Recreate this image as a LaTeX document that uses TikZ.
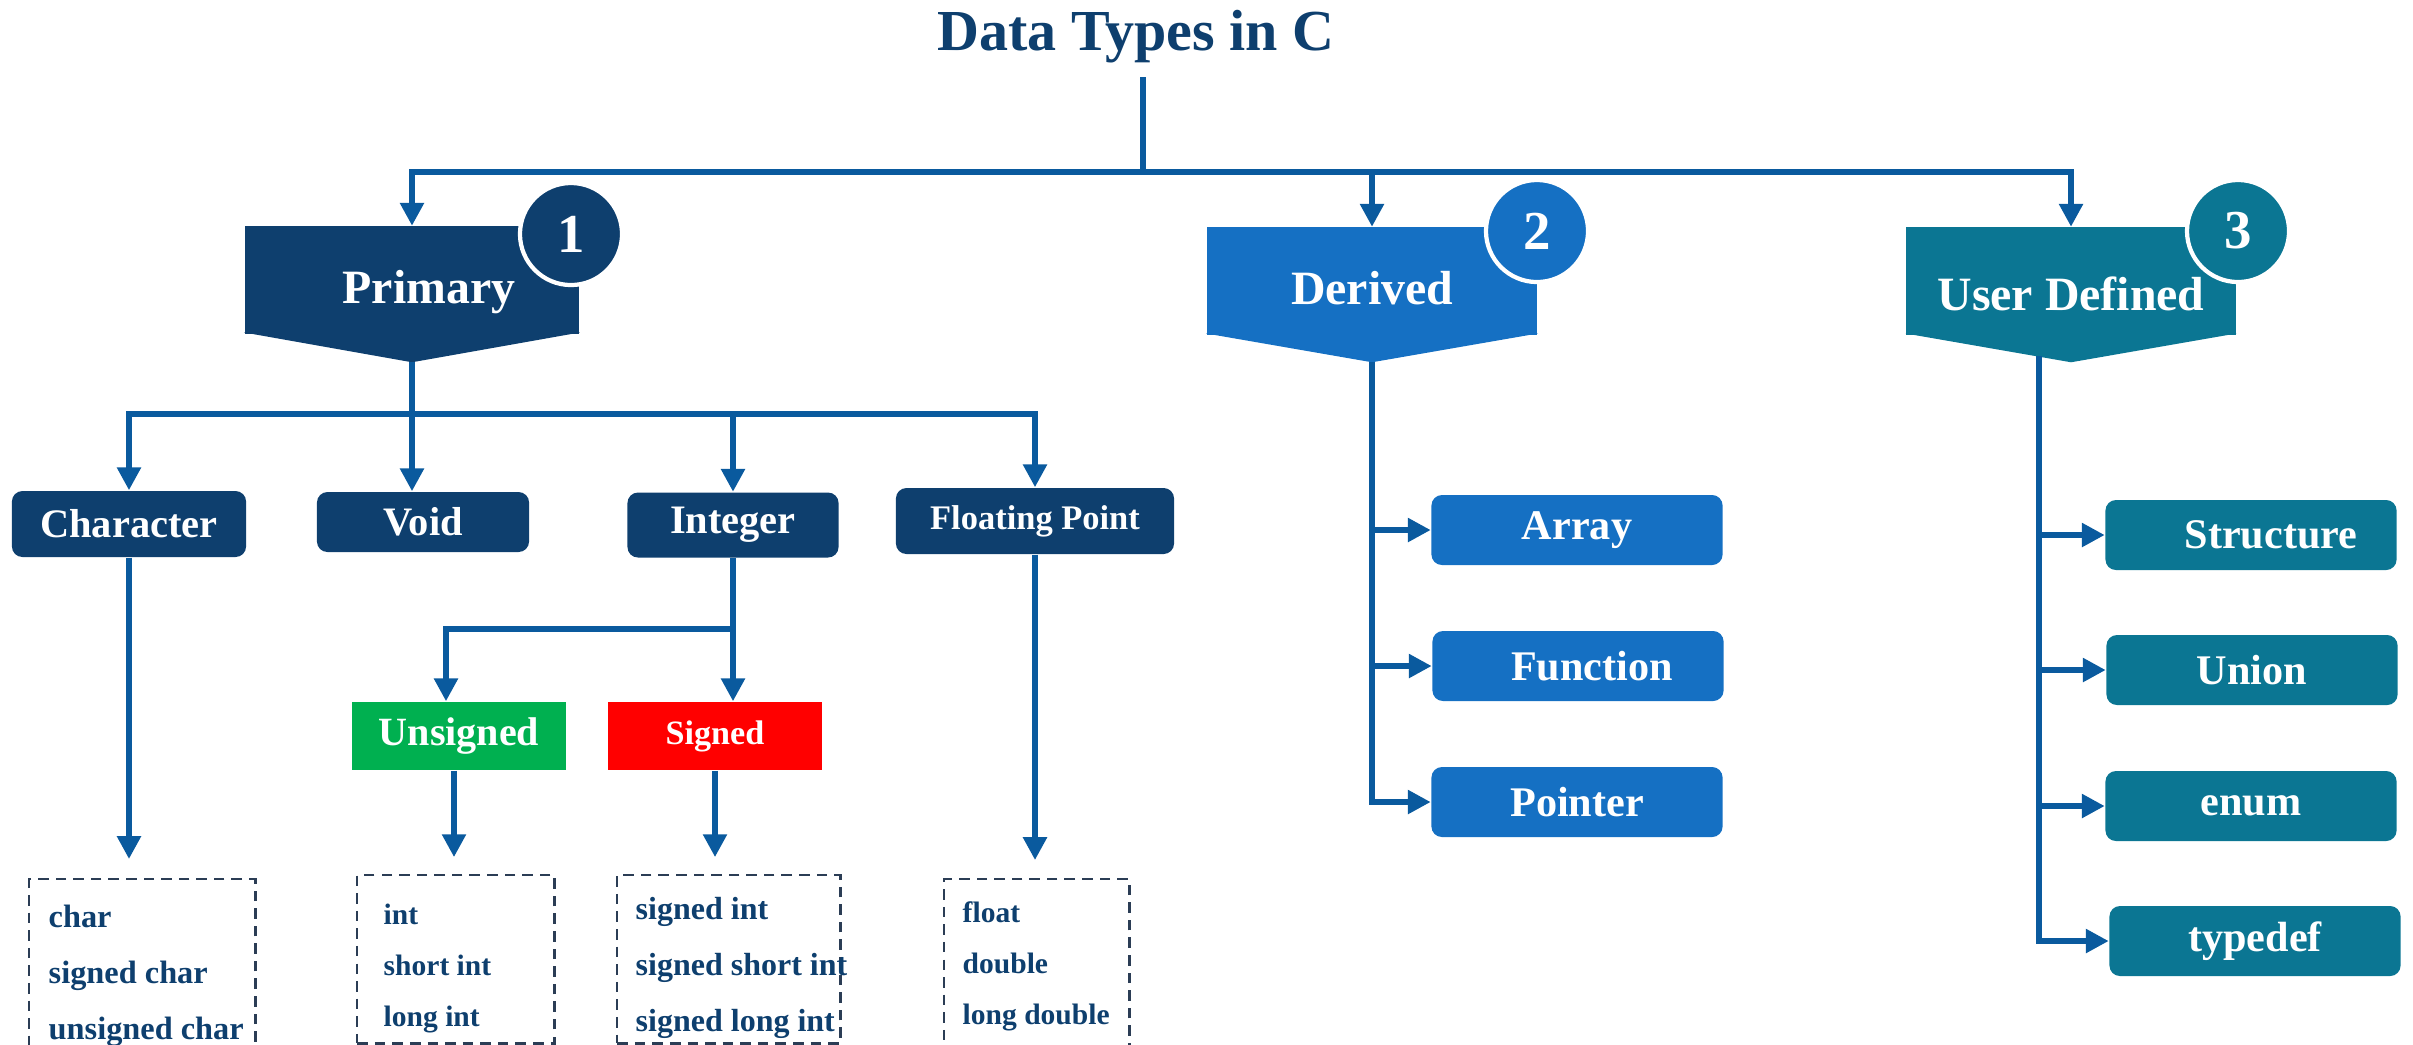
\documentclass[tikz,border=0pt]{standalone}
\usepackage{fontspec}
\setmainfont{Liberation Serif}
\usetikzlibrary{arrows.meta}

\definecolor{navy}{HTML}{0E3F6E}
\definecolor{derblue}{HTML}{1570C3}
\definecolor{tealblue}{HTML}{0B7693}
\definecolor{linkblue}{HTML}{0A5A9E}
\definecolor{okgreen}{HTML}{00B050}
\definecolor{dashgray}{HTML}{2B3D55}

\tikzset{
	link/.style={draw=linkblue,line width=1.9pt},
	arrow/.style={link,-{Triangle[length=6.5pt,width=6.5pt]}},
	head/.style={rectangle,fill=#1,text=white,font=\bfseries\fontsize{13.6}{16}\selectfont,minimum height=1.07cm,text height=13.5pt,text depth=0pt,inner sep=0pt},
	badge/.style={circle,fill=#1,draw=white,line width=1.2pt,text=white,font=\bfseries\fontsize{15.6}{18}\selectfont,minimum size=1.02cm,inner sep=0pt},
	catbox/.style={rectangle,rounded corners=3pt,fill=navy,text=white,font=\bfseries\fontsize{11.5}{14}\selectfont,inner sep=0pt},
	subbox/.style={rectangle,fill=#1,text=white,font=\bfseries\fontsize{11.4}{14}\selectfont,minimum width=2.14cm,minimum height=0.68cm,inner sep=0pt},
	itembox/.style={rectangle,rounded corners=3pt,fill=#1,text=white,font=\bfseries\fontsize{12}{14}\selectfont,minimum width=2.91cm,minimum height=0.70cm,inner sep=0pt},
	listbox/.style={rectangle,draw=dashgray,dash pattern=on 3pt off 2pt,line width=0.7pt,anchor=north west,inner sep=0pt},
	listtext/.style={anchor=base west,align=left,text=navy,inner sep=0pt},
}

\begin{document}
\begin{tikzpicture}[x=0.01cm,y=-0.01cm]
	\useasboundingbox (0,0) rectangle (2413,1044);
	\clip (0,0) rectangle (2413,1044);
	
	\node[anchor=base,text=navy,font=\bfseries\fontsize{16.5}{20}\selectfont] (title) at (1136,50) {Data Types in C};
	
	\node[head=navy,minimum width=3.34cm] (prim) at (412,280) {\hspace{0.34cm}Primary};
	\coordinate (prim-tip) at ([yshift=-0.28cm]prim.south);
	\fill[navy] ([yshift=0.5pt]prim.south west) -- ([yshift=0.5pt]prim.south east) -- (prim-tip) -- cycle;
	\node[badge=navy] (one) at (571,234) {1};
	
	\node[head=derblue,minimum width=3.30cm] (der) at (1372,281) {Derived};
	\coordinate (der-tip) at ([yshift=-0.27cm]der.south);
	\fill[derblue] ([yshift=0.5pt]der.south west) -- ([yshift=0.5pt]der.south east) -- (der-tip) -- cycle;
	\node[badge=derblue] (two) at (1537,231) {2};
	
	\node[head=tealblue,minimum width=3.29cm,text height=17pt] (usr) at (2071,281) {User Defined\hspace{0.1cm}};
	\coordinate (usr-tip) at ([yshift=-0.27cm]usr.south);
	\fill[tealblue] ([yshift=0.5pt]usr.south west) -- ([yshift=0.5pt]usr.south east) -- (usr-tip) -- cycle;
	\node[badge=tealblue] (three) at (2238,231) {3};
	
	\node[catbox,minimum width=2.34cm,minimum height=0.66cm] (char) at (129,524) {Character};
	\node[catbox,minimum width=2.12cm,minimum height=0.60cm] (void) at (423,522) {Void\hspace{0.28cm}};
	\node[catbox,minimum width=2.11cm,minimum height=0.65cm] (integer) at (733,525) {Integer\hspace{0.1cm}};
	\node[catbox,minimum width=2.78cm,minimum height=0.66cm,font=\bfseries\fontsize{9.8}{12}\selectfont] (floating) at (1035,521) {Floating Point\hspace{0.34cm}};
	
	\node[subbox=okgreen] (unsigned) at (459,736) {Unsigned};
	\node[subbox=red,font=\bfseries\fontsize{9.7}{12}\selectfont] (signed) at (715,736) {Signed};
	
	\node[listbox,minimum width=2.26cm,minimum height=2.0cm] (char-list) at (28,878) {};
	\node[listbox,minimum width=1.97cm,minimum height=1.68cm] (uns-list) at (356,874) {};
	\node[listbox,minimum width=2.23cm,minimum height=1.68cm] (sig-list) at (616,874) {};
	\node[listbox,minimum width=1.85cm,minimum height=2.0cm] (flt-list) at (943,878) {};
	
	\node[listtext,font=\bfseries\fontsize{9.2}{15.9}\selectfont] (char-items) at (48,1039) {char\\signed char\\unsigned char};
	\node[listtext,font=\bfseries\fontsize{8.4}{14.4}\selectfont] (uns-items) at (383,1026) {int\\short int\\long int};
	\node[listtext,font=\bfseries\fontsize{9.1}{15.8}\selectfont] (sig-items) at (635,1031) {signed int\\signed short int\\signed long int};
	\node[listtext,font=\bfseries\fontsize{8.4}{14.5}\selectfont] (flt-items) at (962,1024) {float\\double\\long double};
	
	\node[itembox=derblue] (array) at (1577,530) {Array\hspace{0.18cm}};
	\node[itembox=derblue] (function) at (1578,666) {\hspace{0.28cm}Function};
	\node[itembox=derblue] (pointer) at (1577,802) {Pointer};
	
	\node[itembox=tealblue] (structure) at (2251,535) {\hspace{0.4cm}Structure};
	\node[itembox=tealblue] (union) at (2252,670) {Union\hspace{0.24cm}};
	\node[itembox=tealblue] (enum) at (2251,806) {enum\hspace{0.34cm}};
	\node[itembox=tealblue] (typedef) at (2255,941) {typedef\hspace{0.28cm}};
	
	\coordinate (hub-top) at (1143,77);
	\coordinate (hub) at (1143,172);
	\draw[link,line width=1.6pt] (hub-top) -- (hub);
	\draw[arrow] (hub) -| (prim.north);
	\draw[arrow] (hub) -| (usr.north);
	\draw[arrow] (der.north |- hub) -- (der.north);
	
	\coordinate (pbar) at (prim-tip |- 0,414);
	\draw[arrow] (prim-tip) -- (prim-tip |- void.north);
	\draw[arrow] (pbar) -| (char.north);
	\draw[arrow] (pbar) -| (floating.north);
	\draw[arrow] (integer.north |- pbar) -- (integer.north);
	
	\coordinate (ibar) at (integer.south |- 0,629);
	\draw[arrow] (integer.south) -- (integer.south |- signed.north);
	\draw[arrow] (ibar) -| ([xshift=-0.13cm]unsigned.north);
	
	\draw[arrow,shorten >=5.4pt] (char.south) -- (char.south |- char-list.north);
	\draw[arrow,shorten >=4.8pt] ([xshift=-0.05cm]unsigned.south) -- ([xshift=-0.05cm]unsigned.south |- uns-list.north);
	\draw[arrow,shorten >=4.8pt] (signed.south) -- (signed.south |- sig-list.north);
	\draw[arrow,shorten >=5.1pt] (floating.south) -- (floating.south |- flt-list.north);
	
	\draw[arrow] (der-tip) |- (pointer.west);
	\draw[arrow] (der-tip |- array.west) -- (array.west);
	\draw[arrow] (der-tip |- function.west) -- (function.west);
	
	\coordinate (usr-stem) at (2039,356);
	\draw[arrow] (usr-stem) |- (typedef.west);
	\draw[arrow] (usr-stem |- structure.west) -- (structure.west);
	\draw[arrow] (usr-stem |- union.west) -- (union.west);
	\draw[arrow] (usr-stem |- enum.west) -- (enum.west);
\end{tikzpicture}
\end{document}
